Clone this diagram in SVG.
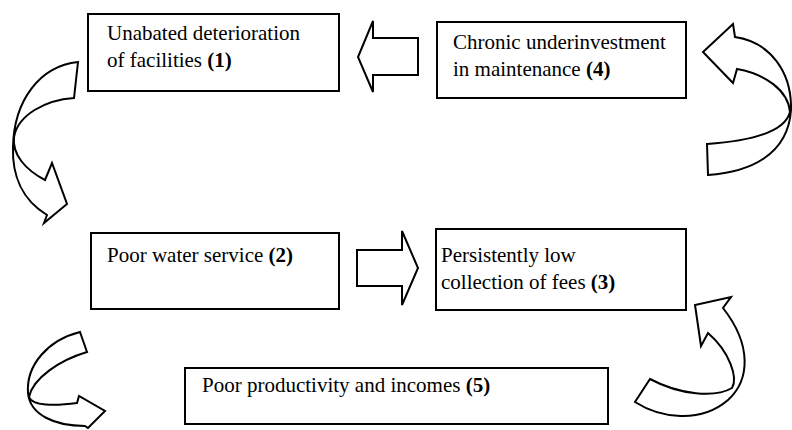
<svg xmlns="http://www.w3.org/2000/svg" width="792" height="430" viewBox="0 0 792 430">
<style>
.box{fill:#fff;stroke:#000;stroke-width:2}
.t{font-family:"Liberation Serif","Times New Roman",serif;font-size:21px;fill:#000}
.b{font-weight:bold}
.ar{fill:#fff;stroke:#000;stroke-width:2;stroke-linejoin:miter}
.cv{fill:none;stroke:#000;stroke-width:2;stroke-linejoin:miter}
</style>
<rect width="792" height="430" fill="#fff"/>
<g id="connectors">
  <polygon class="ar" points="418,38 373,38 373,21 358,57 373,92 373,75 418,75"/>
  <polygon class="ar" points="357,250 402,250 402,231 418,268 402,305 402,286 357,286"/>
  <!-- top-left curved arrow -->
  <path class="cv" d="M78,62 L74,98 C45,100 18,115 14,137 C12,155 26,170 45,180 L52,163 L67,204 L44,223 L47,215 C22,200 12,175 13,147 C14,100 40,66 78,62 Z"/>
  <!-- top-right curved arrow -->
  <path class="cv" d="M707,144 L708,175 C750,172 788,155 791,110 C792,72 770,42 735,37 L733,24 L703,52 L733,83 L737,69 C765,74 788,90 790,112 C785,132 750,141 707,144 Z"/>
  <!-- bottom-left curved arrow -->
  <path class="cv" d="M80,332 L87,352 C60,360 33,378 29,397 C32,406 55,406 77,403 L79,396 L105,411 L88,428 L85,426 C55,426 30,415 28,393 C26,365 48,340 80,332 Z"/>
  <!-- bottom-right curved arrow -->
  <path class="cv" d="M650,379 L635,402 C660,418 700,424 728,400 C750,380 752,345 723,308 L731,297 L695,305 L701,346 L708,333 C730,352 738,378 732,388 C715,398 680,395 650,379 Z"/>
</g>
<g id="node1">
  <rect class="box" x="88" y="14" width="251" height="77"/>
  <text class="t" x="107" y="40">Unabated deterioration</text>
  <text class="t" x="107" y="67">of facilities <tspan class="b">(1)</tspan></text>
</g>
<g id="node4">
  <rect class="box" x="437" y="22" width="249" height="76"/>
  <text class="t" x="453" y="49">Chronic underinvestment</text>
  <text class="t" x="453" y="76">in maintenance <tspan class="b">(4)</tspan></text>
</g>
<g id="node2">
  <rect class="box" x="91" y="233" width="248" height="76"/>
  <text class="t" x="107" y="262">Poor water service <tspan class="b">(2)</tspan></text>
</g>
<g id="node3">
  <rect class="box" x="436" y="229" width="250" height="81"/>
  <text class="t" x="441" y="262">Persistently low</text>
  <text class="t" x="441" y="289">collection of fees <tspan class="b">(3)</tspan></text>
</g>
<g id="node5">
  <rect class="box" x="185" y="368" width="423" height="56"/>
  <text class="t" x="202" y="392">Poor productivity and incomes <tspan class="b">(5)</tspan></text>
</g>
</svg>
